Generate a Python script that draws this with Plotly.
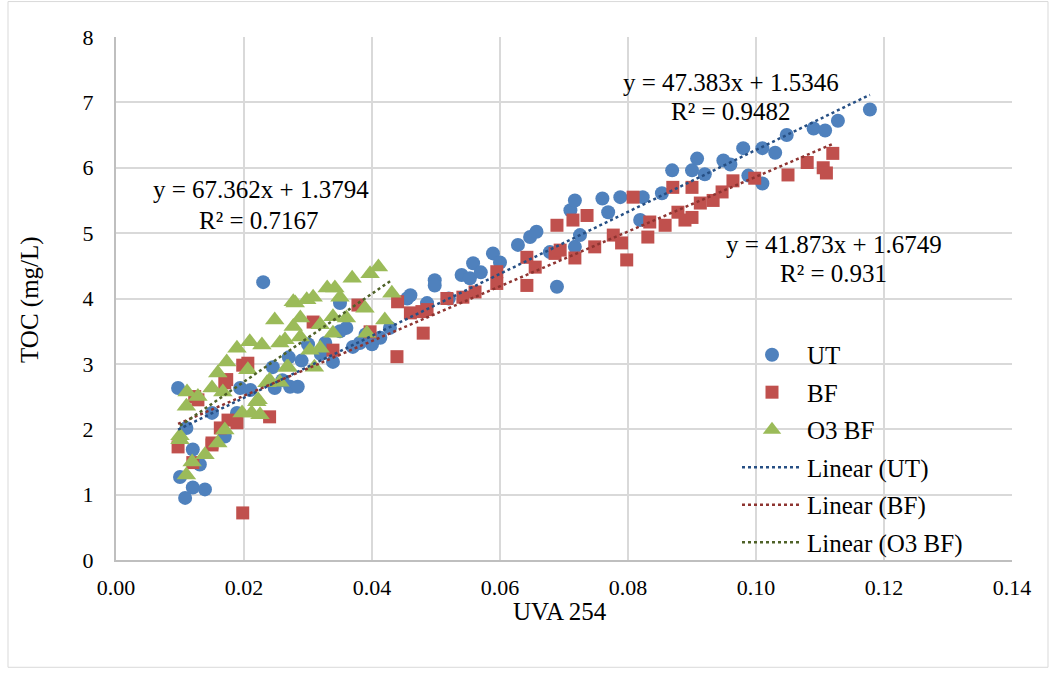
import plotly.graph_objects as go

# ---------------- data ----------------
ut_x = [0.0097, 0.010, 0.0108, 0.011, 0.012, 0.012, 0.0131, 0.0139, 0.015, 0.017, 0.0189, 0.0194,
        0.021, 0.023, 0.0245, 0.0248, 0.026, 0.027, 0.0272, 0.0284, 0.029, 0.030, 0.0327, 0.032,
        0.0339, 0.035, 0.035, 0.036, 0.037, 0.0381, 0.039, 0.040, 0.0413, 0.0428, 0.0455, 0.046,
        0.0486, 0.0498, 0.0498, 0.052, 0.054, 0.0553, 0.0558, 0.057, 0.0589, 0.060, 0.0628, 0.0647,
        0.0657, 0.0678, 0.0689, 0.071, 0.0717, 0.0717, 0.0725, 0.076, 0.0769, 0.0788, 0.0819, 0.0823,
        0.0853, 0.0869, 0.090, 0.0908, 0.092, 0.0949, 0.096, 0.098, 0.0988, 0.101, 0.101, 0.103,
        0.1048, 0.109, 0.1108, 0.1128, 0.1178]
ut_y = [2.63, 1.27, 0.95, 2.02, 1.69, 1.11, 1.46, 1.08, 2.25, 1.89, 2.25, 2.63,
        2.60, 4.25, 2.95, 2.63, 2.75, 3.10, 2.65, 2.65, 3.05, 3.30, 3.32, 3.15,
        3.03, 3.93, 3.50, 3.55, 3.26, 3.32, 3.45, 3.30, 3.40, 3.55, 4.00, 4.05,
        3.93, 4.28, 4.20, 4.00, 4.36, 4.31, 4.54, 4.40, 4.69, 4.55, 4.82, 4.94,
        5.02, 4.71, 4.18, 5.35, 5.50, 4.79, 4.97, 5.53, 5.32, 5.55, 5.20, 5.55,
        5.61, 5.96, 5.96, 6.14, 5.90, 6.11, 6.05, 6.30, 5.88, 6.30, 5.76, 6.23,
        6.50, 6.60, 6.57, 6.72, 6.89]

bf_x = [0.0097, 0.0123, 0.0128, 0.012, 0.015, 0.015, 0.0163, 0.0173, 0.017, 0.0175, 0.0189, 0.0198,
        0.0198, 0.0206, 0.024, 0.0308, 0.0339, 0.0378, 0.0397, 0.0439, 0.044, 0.046, 0.0478, 0.048,
        0.0486, 0.0517, 0.0542, 0.0561, 0.0595, 0.0595, 0.0642, 0.0642, 0.0655, 0.0686, 0.0689, 0.0694,
        0.0714, 0.0717, 0.0736, 0.0748, 0.0777, 0.079, 0.0798, 0.0808, 0.0831, 0.0834, 0.0858, 0.087,
        0.0878, 0.0889, 0.090, 0.090, 0.0913, 0.0933, 0.0947, 0.0964, 0.0998, 0.105, 0.108, 0.1105,
        0.112, 0.111]
bf_y = [1.73, 2.50, 2.45, 1.49, 1.79, 1.76, 2.02, 2.76, 2.71, 2.14, 2.10, 0.72,
        2.98, 3.01, 2.19, 3.64, 3.21, 3.90, 3.49, 3.11, 3.95, 3.78, 3.80, 3.47,
        3.83, 4.00, 4.02, 4.10, 4.41, 4.23, 4.63, 4.20, 4.48, 4.69, 5.12, 4.74,
        5.20, 4.62, 5.27, 4.79, 4.97, 4.85, 4.59, 5.55, 4.94, 5.17, 5.12, 5.70,
        5.32, 5.20, 5.24, 5.70, 5.46, 5.50, 5.63, 5.80, 5.84, 5.89, 6.08, 6.00,
        6.22, 5.92]

o3_x = [0.010, 0.010, 0.011, 0.0111, 0.011, 0.0119, 0.0128, 0.0139, 0.015, 0.0159, 0.0159, 0.0167,
        0.017, 0.0173, 0.0189, 0.0197, 0.0206, 0.0209, 0.0212, 0.022, 0.0225, 0.0228, 0.0222, 0.0236,
        0.024, 0.0248, 0.0256, 0.0256, 0.0264, 0.0267, 0.0269, 0.0277, 0.0277, 0.028, 0.0288, 0.0288,
        0.0298, 0.0303, 0.0308, 0.031, 0.0319, 0.0319, 0.033, 0.0339, 0.0339, 0.0342, 0.035, 0.036,
        0.0369, 0.0389, 0.0392, 0.0397, 0.041, 0.042, 0.0431]
o3_y = [1.84, 1.90, 1.30, 2.57, 2.35, 1.50, 2.50, 1.61, 2.63, 1.79, 2.86, 2.57,
        1.99, 3.03, 3.24, 2.25, 2.91, 3.34, 2.25, 2.42, 2.22, 3.29, 2.45, 2.71,
        2.75, 3.67, 3.32, 2.72, 3.37, 2.95, 2.95, 3.95, 3.57, 3.93, 3.70, 3.41,
        3.98, 3.21, 4.02, 2.95, 3.60, 3.24, 4.16, 3.72, 3.47, 4.16, 4.02, 3.70,
        4.31, 3.85, 3.47, 4.38, 4.48, 3.67, 4.08]

series_names = ["UT", "BF", "O3 BF"]
slopes = [47.383, 41.873, 67.362]
intercepts = [1.5346, 1.6749, 1.3794]
r2_values = ["0.9482", "0.931", "0.7167"]

x_ticks = [0.00, 0.02, 0.04, 0.06, 0.08, 0.10, 0.12, 0.14]
y_ticks = [0, 1, 2, 3, 4, 5, 6, 7, 8]
x_title = "UVA 254"
y_title = "TOC (mg/L)"

# ---------------- styling ----------------
W, H = 1050, 675
L, R, T, B = 116, 38, 36.5, 114.5
PW, PH = W - L - R, H - T - B

def px(xp):
    return (xp - L) / PW

def py(yp):
    return (H - B - yp) / PH

FONT = "Liberation Serif"
TXT = dict(family=FONT, size=25, color="#000")
TICK = dict(family=FONT, size=22, color="#000")
marker_colors = ["#4F81BD", "#C0504D", "#9BBB59"]
line_colors = ["#264F84", "#8E3431", "#4F6228"]
symbols = ["circle", "square", "triangle-up"]
msizes = [14, 13, 17]

xs = [ut_x, bf_x, o3_x]
ys = [ut_y, bf_y, o3_y]

fig = go.Figure()
for i in range(3):
    fig.add_trace(go.Scatter(
        x=xs[i], y=ys[i], mode="markers", name=series_names[i],
        legendgroup="m%d" % i,
        marker=dict(symbol=symbols[i], size=msizes[i], color=marker_colors[i],
                    line=dict(width=0)),
    ))
for i in range(3):
    x0, x1 = min(xs[i]), max(xs[i])
    fig.add_trace(go.Scatter(
        x=[x0, x1], y=[slopes[i] * x0 + intercepts[i], slopes[i] * x1 + intercepts[i]],
        mode="lines", name="Linear (%s)" % series_names[i],
        legendgroup="l%d" % i,
        line=dict(color=line_colors[i], width=2.5, dash="dot"),
    ))

# trendline equations
eq_pos = [((731, 82), (731, 111)), ((834, 244), (833, 273)), ((261, 189), (259, 220))]
for i in range(3):
    (ex, ey), (rx, ry) = eq_pos[i]
    fig.add_annotation(x=px(ex), y=py(ey), xref="paper", yref="paper",
                       text="y = %sx + %s" % (slopes[i], intercepts[i]),
                       showarrow=False, font=TXT, xanchor="center", yanchor="middle")
    fig.add_annotation(x=px(rx), y=py(ry), xref="paper", yref="paper",
                       text="R² = %s" % r2_values[i],
                       showarrow=False, font=TXT, xanchor="center", yanchor="middle")

# axis titles
fig.add_annotation(x=px(560), y=py(612), xref="paper", yref="paper", text=x_title,
                   showarrow=False, font=TXT, xanchor="center", yanchor="middle")
fig.add_annotation(x=px(30), y=py(300), xref="paper", yref="paper", text=y_title,
                   showarrow=False, font=TXT, xanchor="center", yanchor="middle", textangle=-90)

fig.update_layout(
    width=W, height=H,
    margin=dict(l=L, r=R, t=T, b=B),
    paper_bgcolor="white", plot_bgcolor="white",
    font=TXT,
    showlegend=True,
    legend=dict(x=px(737), y=py(332), xanchor="left", yanchor="top",
                bgcolor="rgba(0,0,0,0)", font=TXT,
                tracegroupgap=2, itemwidth=60),
    xaxis=dict(range=[0, 0.14], tickvals=x_ticks, tickformat=".2f",
               showgrid=True, gridcolor="#D9D9D9", gridwidth=1.5,
               showline=True, linecolor="#BFBFBF", linewidth=2,
               zeroline=False, ticks="", tickfont=TICK, ticklabelstandoff=7),
    yaxis=dict(range=[0, 8], tickvals=y_ticks,
               showgrid=True, gridcolor="#D9D9D9", gridwidth=1.5,
               showline=True, linecolor="#BFBFBF", linewidth=2,
               zeroline=False, ticks="", tickfont=TICK, ticklabelstandoff=16),
    shapes=[dict(type="rect", xref="paper", yref="paper",
                 x0=px(8), x1=px(1048), y0=py(668), y1=py(1),
                 line=dict(color="#D9D9D9", width=1), fillcolor="rgba(0,0,0,0)", layer="below")],
)

fig.write_html("out.html")
